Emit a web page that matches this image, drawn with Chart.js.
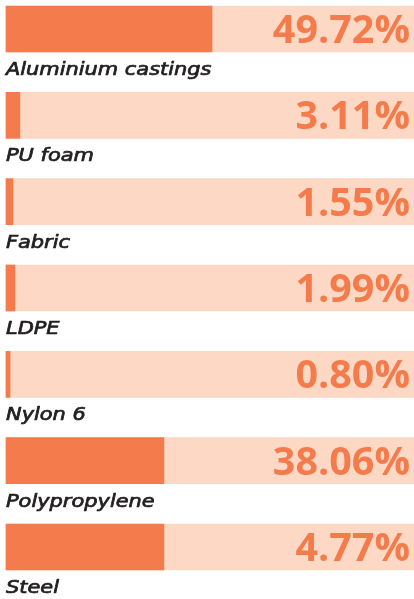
<!DOCTYPE html>
<html>
<head>
<meta charset="utf-8">
<script src="https://cdn.jsdelivr.net/npm/chart.js@4"></script>
<style>
  html, body { margin: 0; padding: 0; background: #fff; }
  #wrap { width: 414px; height: 599px; position: relative; }
</style>
</head>
<body>
<div id="wrap"><canvas id="c" width="414" height="599"></canvas></div>
<script>
const categories = ["Aluminium castings", "PU foam", "Fabric", "LDPE", "Nylon 6", "Polypropylene", "Steel"];
const valueLabels = ["49.72%", "3.11%", "1.55%", "1.99%", "0.80%", "38.06%", "4.77%"];
// bar lengths as drawn in the picture (percent of full track)
const barLengths = [50.5, 3.4, 1.7, 2.2, 1.0, 38.7, 38.7];
const trackValues = [100, 100, 100, 100, 100, 100, 100];

const FILL = '#F47C4C';
const TRACK = '#FDD9C5';

const labelPlugin = {
  id: 'rowLabels',
  afterDatasetsDraw(chart) {
    const ctx = chart.ctx;
    const yScale = chart.scales.y;
    const area = chart.chartArea;
    ctx.save();
    categories.forEach((cat, i) => {
      const yc = yScale.getPixelForValue(i);
      ctx.save();
      ctx.textBaseline = 'alphabetic';
      ctx.textAlign = 'left';
      ctx.fillStyle = '#231F20';
      ctx.strokeStyle = '#231F20';
      ctx.lineWidth = 0.7;
      ctx.lineJoin = 'round';
      ctx.font = 'italic 500 17px "DejaVu Sans"';
      ctx.translate(area.left, yc + 46);
      ctx.scale(1.23, 1);
      ctx.fillText(cat, 0, 0);
      ctx.strokeText(cat, 0, 0);
      ctx.restore();
      ctx.textAlign = 'right';
      ctx.textBaseline = 'alphabetic';
      ctx.fillStyle = FILL;
      ctx.font = '700 39.5px "Open Sans"';
      ctx.fillText(valueLabels[i], area.right - 4, yc + 14);
    });
    ctx.restore();
  }
};

new Chart(document.getElementById('c'), {
  type: 'bar',
  data: {
    labels: categories,
    datasets: [
      { data: barLengths, backgroundColor: FILL, grouped: false, barThickness: 46, clip: false, order: 0 },
      { data: trackValues, backgroundColor: TRACK, grouped: false, barThickness: 46, clip: false, order: 1 }
    ]
  },
  options: {
    indexAxis: 'y',
    responsive: false,
    animation: false,
    layout: { padding: { left: 6, right: 0, top: 29, bottom: 52 } },
    plugins: { legend: { display: false }, tooltip: { enabled: false } },
    scales: {
      x: { display: false, min: 0, max: 100 },
      y: { display: false, offset: false }
    }
  },
  plugins: [labelPlugin]
});
</script>
</body>
</html>
